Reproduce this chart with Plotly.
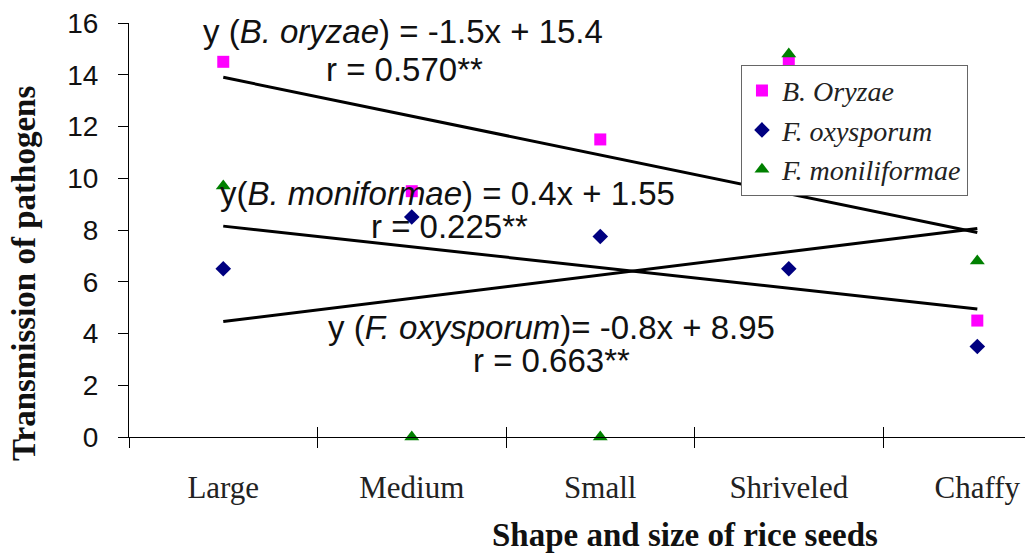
import numpy as np
import plotly.graph_objects as go

categories = ["Large", "Medium", "Small", "Shriveled", "Chaffy"]
x_pos = [1, 2, 3, 4, 5]
b_oryzae = [14.5, 9.5, 11.5, 14.5, 4.5]
f_oxysporum = [6.5, 8.5, 7.75, 6.5, 3.5]
f_moniliformae = [9.7, 0, 0, 14.8, 6.8]
y_ticks = [0, 2, 4, 6, 8, 10, 12, 14, 16]
boundary_ticks = [0.5, 1.5, 2.5, 3.5, 4.5]

fig = go.Figure()

# trend lines (least-squares fits of each series)
for vals in [b_oryzae, f_oxysporum, f_moniliformae]:
    slope, icpt = np.polyfit(x_pos, vals, 1)
    xs = np.array([x_pos[0], x_pos[-1]])
    fig.add_trace(go.Scatter(x=xs, y=slope * xs + icpt, mode="lines",
                             line=dict(color="black", width=3),
                             showlegend=False, hoverinfo="skip"))

fig.add_trace(go.Scatter(x=x_pos, y=b_oryzae, mode="markers", name="<i>B. Oryzae</i>",
                         marker=dict(symbol="square", size=12, color="#FF00FF"),
                         cliponaxis=False))
fig.add_trace(go.Scatter(x=x_pos, y=f_oxysporum, mode="markers", name="<i>F. oxysporum</i>",
                         marker=dict(symbol="diamond", size=12, color="#000080"),
                         cliponaxis=False))
fig.add_trace(go.Scatter(x=x_pos, y=f_moniliformae, mode="markers", name="<i>F. moniliformae</i>",
                         marker=dict(symbol="triangle-up", size=13, color="#008000"),
                         cliponaxis=False))
# helper trace to register the overlaid tick axis
fig.add_trace(go.Scatter(x=[x_pos[0]], y=[0], xaxis="x2", mode="markers",
                         marker=dict(opacity=0), showlegend=False, hoverinfo="skip"))

xr = [0.5, 5.253]
fig.update_layout(
    width=1025, height=554,
    margin=dict(l=129, r=0, t=23, b=117),
    plot_bgcolor="white", paper_bgcolor="white",
    xaxis=dict(range=xr, tickvals=x_pos, ticktext=categories,
               ticks="outside", ticklen=23, tickcolor="rgba(0,0,0,0)",
               showline=True, linecolor="black", linewidth=1,
               showgrid=False, zeroline=False,
               tickfont=dict(family="Liberation Serif", size=31, color="#222"),
               minor=dict(tickvals=boundary_ticks, ticks="outside", ticklen=10,
                          tickcolor="black", tickwidth=1, showgrid=False)),
    xaxis2=dict(range=xr, overlaying="x", anchor="y", side="bottom",
                tickvals=boundary_ticks, ticks="inside", ticklen=10,
                tickcolor="black", showticklabels=False, showline=False,
                showgrid=False, zeroline=False),
    yaxis=dict(range=[0, 16], tickvals=y_ticks, ticks="outside", ticklen=10,
               tickcolor="black", showline=True, linecolor="black", linewidth=1,
               showgrid=False, zeroline=False, ticklabelstandoff=14,
               tickfont=dict(family="Liberation Sans", size=28, color="#111")),
    legend=dict(x=0.683, y=0.899, xanchor="left", yanchor="top",
                bordercolor="#666", borderwidth=1, bgcolor="white",
                font=dict(family="Liberation Serif", size=28, color="#222"),
                tracegroupgap=0, itemwidth=30, entrywidth=225,
                entrywidthmode="pixels"),
    showlegend=True,
)

ann_font = dict(family="Liberation Sans", size=33, color="#111")
ann_lines = [
    (1.954, 15.69, "y (<i>B. oryzae</i>) = -1.5x + 15.4"),
    (1.959, 14.22, "r = 0.570**"),
    (2.192, 9.43, "y(<i>B. moniformae</i>) = 0.4x + 1.55"),
    (2.198, 8.12, "r = 0.225**"),
    (2.739, 4.25, "y (<i>F. oxysporum</i>)= -0.8x + 8.95"),
    (2.739, 2.94, "r = 0.663**"),
]
for ax_, ay_, txt in ann_lines:
    fig.add_annotation(x=ax_, y=ay_, xref="x", yref="y", showarrow=False,
                       text=txt, font=ann_font, xanchor="center", yanchor="middle")

title_font = dict(family="Liberation Serif", size=33, color="#111")
fig.add_annotation(x=-0.117, y=0.394, xref="paper", yref="paper", showarrow=False,
                   text="<b>Transmission of pathogens</b>", textangle=-90,
                   font=title_font, xanchor="center", yanchor="middle")
fig.add_annotation(x=0.6205, y=-0.237, xref="paper", yref="paper", showarrow=False,
                   text="<b>Shape and size of rice seeds</b>",
                   font=title_font, xanchor="center", yanchor="middle")

fig.write_html("out.html")
